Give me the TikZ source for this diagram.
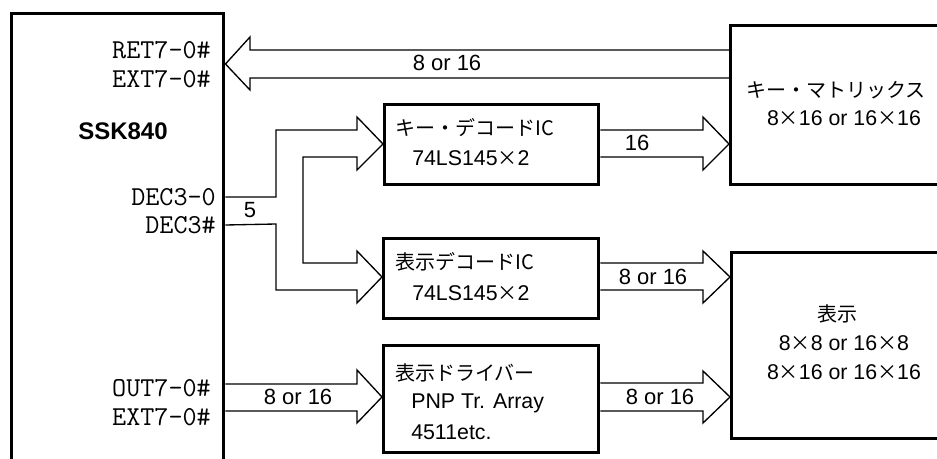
\documentclass[tikz,border=0pt]{standalone}
\usepackage{fontspec}
\setmainfont{Liberation Sans}
\newfontfamily\jpf{Noto Sans CJK JP}
\newcommand{\J}[1]{{\jpf\fontsize{15}{15}\selectfont #1}}
\begin{document}
\begin{tikzpicture}[x=0.75pt,y=-0.75pt,
  box/.style={draw,line width=2.6pt,inner sep=0pt,anchor=north west},
  bus/.style={draw,line width=1pt,line join=miter},
  pin/.style={font=\ttfamily\fontsize{20.5}{20.5}\selectfont,anchor=east,inner sep=0pt},
  jtxt/.style={font=\fontsize{16}{16}\selectfont,inner sep=0pt},
  lbl/.style={font=\fontsize{16.5}{16.5}\selectfont,inner sep=0pt}]
\useasboundingbox (0,0) rectangle (937,459);
% boxes
\node[box,minimum width=159pt,minimum height=351pt] (ssk) at (10,12) {};
\node[box,minimum width=173.25pt,minimum height=119.25pt] (kmat) at (729,24) {};
\node[box,minimum width=160.5pt,minimum height=60pt] (kdec) at (383,103) {};
\node[box,minimum width=161.25pt,minimum height=60pt] (ddec) at (382,237) {};
\node[box,minimum width=161.25pt,minimum height=80.25pt] (drv) at (382,344) {};
\node[box,minimum width=172.5pt,minimum height=139.5pt] (disp) at (730,251) {};
% buses
\draw[bus] (kmat.west |- 0,50) -- (250,50) -- (250,37) -- (ssk.east |- 0,64) -- (250,90) -- (250,78) -- (kmat.west |- 0,78);
\draw[bus] (kdec.east |- 0,130) -- (703,130) -- (703,117) -- (kmat.west |- 0,144) -- (703,170) -- (703,157) -- (kdec.east |- 0,157);
\draw[bus] (ssk.east |- 0,197) -- (276,197) -- (276,130) -- (357,130) -- (357,117) -- (kdec.west |- 0,144) -- (357,170) -- (357,157) -- (303,157) -- (303,263) -- (357,263) -- (357,251) -- (ddec.west |- 0,277) -- (357,303) -- (357,290) -- (276,290) -- (276,224) -- (ssk.east |- 0,225);
\draw[bus] (ddec.east |- 0,263) -- (703,263) -- (703,251) -- (disp.west |- 0,277) -- (703,303) -- (703,290) -- (ddec.east |- 0,290);
\draw[bus] (ssk.east |- 0,384) -- (357,384) -- (357,370) -- (drv.west |- 0,397) -- (357,423) -- (357,411) -- (ssk.east |- 0,411);
\draw[bus] (drv.east |- 0,383) -- (703,383) -- (703,371) -- (disp.west |- 0,397) -- (703,423) -- (703,411) -- (drv.east |- 0,411);
% bus labels
\node[lbl] (l1) at (447,63) {8 or 16};
\node[lbl] (l2) at (637,143) {16};
\node[lbl] (l3) at (250,210) {5};
\node[lbl] (l4) at (653,277) {8 or 16};
\node[lbl] (l5) at (298,397) {8 or 16};
\node[lbl] (l6) at (660,397) {8 or 16};
% pins
\node[pin] (p1) at (211,50) {RET7-0\#};
\node[pin] (p2) at (211,79) {EXT7-0\#};
\node[pin] (p3) at (216,197) {DEC3-0};
\node[pin] (p4) at (216,225) {DEC3\#};
\node[pin] (p5) at (211,388) {OUT7-0\#};
\node[pin] (p6) at (211,417) {EXT7-0\#};
\node[font=\bfseries\fontsize{18}{18}\selectfont,inner sep=0pt] (sskl) at (123,131) {SSK840};
% box texts
\node[jtxt,anchor=west] (t1) at (395,128) {\J{キー・デコードIC}};
\node[jtxt,anchor=west] (t2) at (412,158) {74LS145\J{×}2};
\node[jtxt,anchor=west] (t3) at (395,262) {\J{表示デコードIC}};
\node[jtxt,anchor=west] (t4) at (412,293) {74LS145\J{×}2};
\node[jtxt,anchor=west] (t5) at (395,373) {\J{表示ドライバー}};
\node[jtxt,anchor=west] (t6) at (411,403) {PNP Tr. Array};
\node[jtxt,anchor=west] (t7) at (411,432) {4511etc.};
\node[jtxt] (t8) at (836,90) {\J{キー・マトリックス}};
\node[jtxt] (t9) at (844,118) {8\J{×}16 or 16\J{×}16};
\node[jtxt] (t10) at (837,314) {\J{表示}};
\node[jtxt] (t11) at (844,343) {8\J{×}8 or 16\J{×}8};
\node[jtxt] (t12) at (844,372) {8\J{×}16 or 16\J{×}16};
\end{tikzpicture}
\end{document}
